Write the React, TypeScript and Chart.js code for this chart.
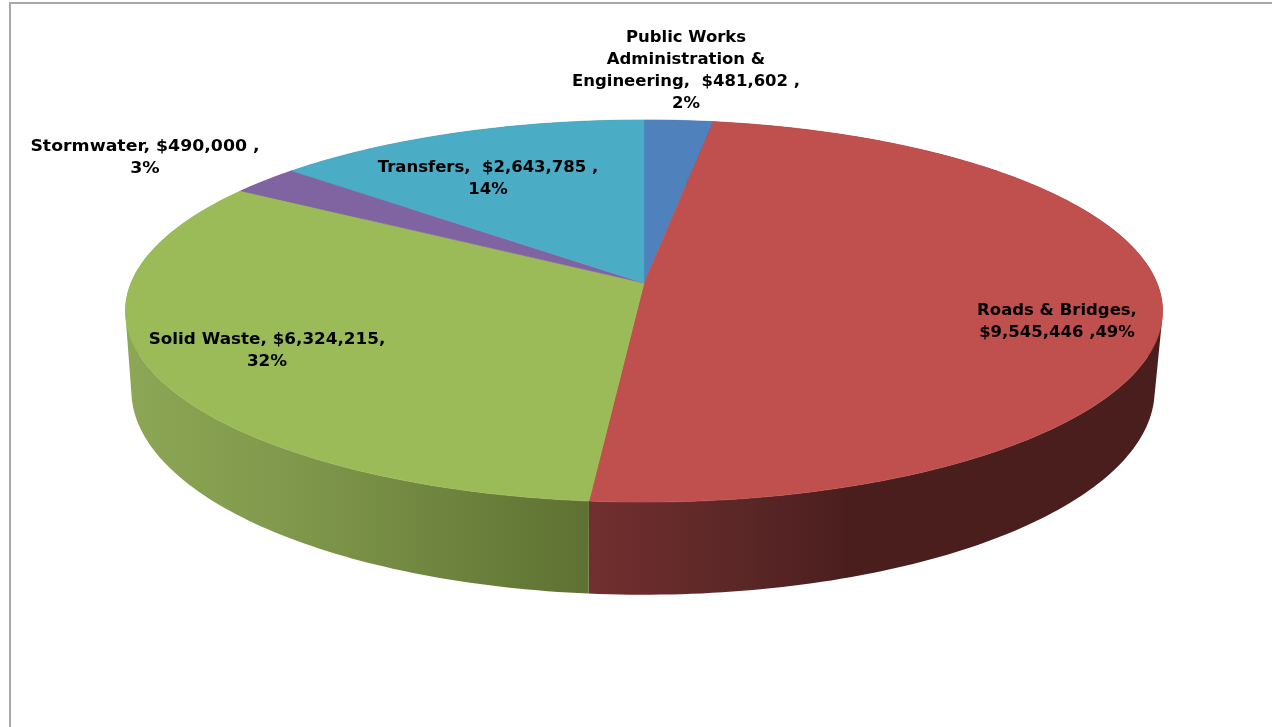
import React, { useEffect, useRef } from "react";
import { Chart, registerables } from "chart.js";

Chart.register(...registerables);

const categories = ["Public Works Administration & Engineering", "Roads & Bridges", "Solid Waste", "Stormwater", "Transfers"];
const amounts = [481602, 9545446, 6324215, 490000, 2643785];
const topColors = ["#4f81bd", "#c0504d", "#9bbb59", "#8064a2", "#4bacc6"];
const wallStops: [number, string][][] = [
  [[0, "#3b618e"], [1, "#2a4566"]],
  [[0.0, "#722f2f"], [0.28, "#5a2626"], [0.45, "#4b1e1e"], [1, "#4b1e1e"]],
  [[0, "#8ca755"], [0.4, "#7e964a"], [1, "#5e7132"]],
  [[0, "#604b7a"], [1, "#443657"]],
  [[0, "#388195"], [1, "#285d6b"]],
];
const labelLines = [
  ["Public Works", "Administration &", "Engineering,  $481,602 ,", "2%"],
  ["Roads & Bridges,", "$9,545,446 ,49%"],
  ["Solid Waste, $6,324,215,", "32%"],
  ["Stormwater, $490,000 ,", "3%"],
  ["Transfers,  $2,643,785 ,", "14%"],
];
const labelAnchors = [
  [686, 38],
  [1057, 311],
  [267, 340],
  [145, 147],
  [488, 168],
];
const labelStretch = [1.03, 1.03, 1.05, 1.083, 1.03];

const topPlane = { x0: 644, y0: 283, a: 187, b: 513, p: -0.1466 };
const basePlane = { x0: 643, y0: 360, a: 200, b: 506, p: -0.148 };

type Plane = typeof topPlane;
type Pt = [number, number];
const project = (pl: Plane, theta: number): Pt => {
  const u = Math.cos(theta);
  const v = Math.sin(theta);
  const w = 1 + pl.p * v;
  return [pl.x0 + (pl.b * u) / w, pl.y0 + (pl.a * v) / w];
};
const samples = (start: number, end: number) => {
  const n = Math.max(2, Math.ceil(((end - start) * 180) / Math.PI));
  const out: number[] = [];
  for (let i = 0; i <= n; i++) out.push(start + ((end - start) * i) / n);
  return out;
};
const signedArea = (q: Pt[]) =>
  q.reduce((s, p, i) => {
    const n = q[(i + 1) % q.length];
    return s + p[0] * n[1] - n[0] * p[1];
  }, 0);

const tiltedPie = {
  id: "tiltedPie",
  beforeDraw(chart: any) {
    const { ctx, width, height } = chart;
    ctx.save();
    ctx.fillStyle = "#ffffff";
    ctx.fillRect(0, 0, width, height);
    ctx.strokeStyle = "#a8a8a8";
    ctx.lineWidth = 2;
    ctx.beginPath();
    ctx.moveTo(10, height);
    ctx.lineTo(10, 3);
    ctx.lineTo(width, 3);
    ctx.stroke();
    ctx.restore();
  },
  beforeDatasetsDraw(chart: any) {
    const { ctx } = chart;
    const arcs = chart.getDatasetMeta(0).data;
    ctx.save();
    arcs.forEach((arc: any, i: number) => {
      const angles = samples(arc.startAngle, arc.endAngle);
      const upper = angles.map((t) => project(topPlane, t));
      const lower = angles.map((t) => project(basePlane, t));
      const xs = [...upper, ...lower].map((q) => q[0]);
      const grad = ctx.createLinearGradient(Math.min(...xs), 0, Math.max(...xs), 0);
      wallStops[i].forEach(([o, c]) => grad.addColorStop(o, c));
      ctx.fillStyle = grad;
      ctx.beginPath();
      for (let k = 0; k + 1 < angles.length; k++) {
        const quad: Pt[] = [upper[k], upper[k + 1], lower[k + 1], lower[k]];
        if (signedArea(quad) < 0) quad.reverse();
        quad.forEach((p, m) => (m ? ctx.lineTo(p[0], p[1]) : ctx.moveTo(p[0], p[1])));
        ctx.closePath();
      }
      ctx.fill("nonzero");
    });
    arcs.forEach((arc: any, i: number) => {
      const angles = samples(arc.startAngle, arc.endAngle);
      ctx.fillStyle = topColors[i];
      ctx.strokeStyle = topColors[i];
      ctx.lineWidth = 0.6;
      ctx.beginPath();
      ctx.moveTo(topPlane.x0, topPlane.y0);
      angles.forEach((t) => {
        const q = project(topPlane, t);
        ctx.lineTo(q[0], q[1]);
      });
      ctx.closePath();
      ctx.fill();
      ctx.stroke();
    });
    ctx.restore();
    return false;
  },
  afterDraw(chart: any) {
    const { ctx } = chart;
    ctx.save();
    ctx.fillStyle = "#000000";
    ctx.font = 'bold 16px "DejaVu Sans"';
    ctx.textAlign = "center";
    ctx.textBaseline = "middle";
    labelLines.forEach((lines, i) => {
      lines.forEach((line, j) => {
        ctx.save();
        ctx.translate(labelAnchors[i][0], labelAnchors[i][1] + j * 22);
        ctx.scale(labelStretch[i], 1);
        ctx.fillText(line, 0, 0);
        ctx.restore();
      });
    });
    ctx.restore();
  },
};

export default function App() {
  const ref = useRef<HTMLCanvasElement>(null);
  useEffect(() => {
    document.body.style.margin = "0";
    document.body.style.overflow = "hidden";
    const chart = new Chart(ref.current!, {
      type: "pie",
      data: {
        labels: categories,
        datasets: [{ data: amounts, backgroundColor: topColors, borderWidth: 0 }],
      },
      options: {
        animation: false,
        responsive: false,
        devicePixelRatio: 1,
        events: [],
        rotation: 0,
        plugins: { legend: { display: false }, tooltip: { enabled: false }, title: { display: false } },
      },
      plugins: [tiltedPie],
    } as any);
    return () => chart.destroy();
  }, []);
  return (
    <div style={{ width: 1272, height: 727 }}>
      <canvas ref={ref} width={1272} height={727} style={{ display: "block" }} />
    </div>
  );
}
